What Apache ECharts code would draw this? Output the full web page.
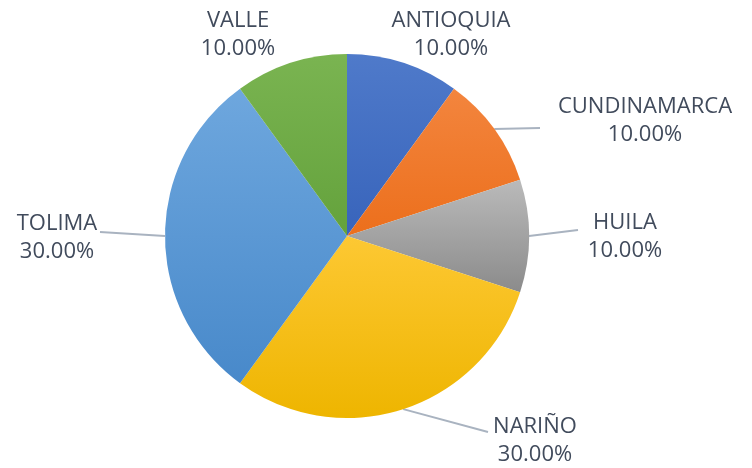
<!DOCTYPE html>
<html><head><meta charset="utf-8">
<script src="https://cdn.jsdelivr.net/npm/echarts@6/dist/echarts.min.js"></script>
<style>html,body{margin:0;padding:0;background:#fff}#c{width:752px;height:468px}</style>
</head><body><div id="c"></div>
<script>
const categories = ['ANTIOQUIA','CUNDINAMARCA','HUILA','NARIÑO','TOLIMA','VALLE'];
const values = [10, 10, 10, 30, 30, 10];
const percentLabels = ['10.00%','10.00%','10.00%','30.00%','30.00%','10.00%'];

const topColors = ['#4f7aca','#f3853e','#bababa','#fdc833','#6ea7de','#7ab451'];
const bottomColors = ['#3864bb','#ec6f1c','#8b8b8b','#eeb500','#4889ca','#64a23c'];
// label block centers and leader end points (layout only)
const labelPos = [[451,35],[645,121],[625,237],[535,441],[57,238],[238,35]];
const leaderEnd = [null,[540,128],[578,230],[488,432],[100,232],null];

const chart = echarts.init(document.getElementById('c'), null, {renderer:'canvas'});
chart.setOption({
  backgroundColor:'#ffffff',
  animation:false,
  series:[{
    type:'pie',
    center:[347,236],
    radius:182,
    startAngle:90,
    clockwise:true,
    label:{
      show:true,
      position:'outside',
      formatter:p=>p.name+'\n'+percentLabels[p.dataIndex],
      fontFamily:'"Open Sans",sans-serif',
      fontSize:22,
      lineHeight:28,
      color:'#414b5c',
      align:'center'
    },
    labelLine:{show:true,lineStyle:{color:'#a9b3c0',width:2},length:20,length2:20},
    labelLayout:function(params){
      const i = params.dataIndex;
      const out = {x:labelPos[i][0], y:labelPos[i][1], align:'center', verticalAlign:'middle'};
      if (leaderEnd[i] && params.labelLinePoints) {
        out.labelLinePoints = [params.labelLinePoints[0], leaderEnd[i], leaderEnd[i]];
      }
      return out;
    },
    itemStyle:{borderWidth:0},
    data: categories.map((n,i)=>({
      name:n,
      value:values[i],
      labelLine:{show: leaderEnd[i]!==null},
      itemStyle:{color:new echarts.graphic.LinearGradient(0,0,0,1,[{offset:0,color:topColors[i]},{offset:1,color:bottomColors[i]}])}
    }))
  }]
});
</script></body></html>
